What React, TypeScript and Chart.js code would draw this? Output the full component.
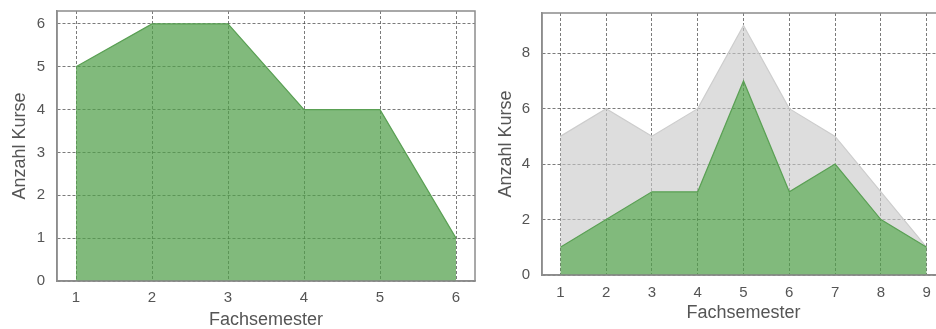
import React, { useEffect, useRef } from "react";
import { Chart, registerables } from "chart.js";

Chart.register(...registerables);

const semesterLeft = [1, 2, 3, 4, 5, 6];
const kurseLeft = [5, 6, 6, 4, 4, 1];

const semesterRight = [1, 2, 3, 4, 5, 6, 7, 8, 9];
const kurseGesamt = [5, 6, 5, 6, 9, 6, 5, 3, 1];
const kurseGruen = [1, 2, 3, 3, 7, 3, 4, 2, 1];

const xTitle = "Fachsemester";
const yTitle = "Anzahl Kurse";

const GREEN_FILL = "rgba(80,160,74,0.72)";
const GREEN_LINE = "rgba(90,160,84,1)";
const GRAY_FILL = "rgba(200,200,200,0.62)";
const GRAY_LINE = "rgba(205,205,205,1)";
const TEXT = "#555555";
const FONT = "'Liberation Sans', Arial, sans-serif";

function pts(xs: number[], ys: number[]) {
  return xs.map((x, i) => ({ x, y: ys[i] }));
}

function makeOptions(p: {
  xmin: number; xmax: number; ymax: number; ystep: number;
  yWidth: number; xHeight: number; padTop: number; padRight: number;
  xTickPad: number; xTitlePad: number; yTitlePad: number;
}) {
  return {
    animation: false as const,
    responsive: false,
    maintainAspectRatio: false,
    layout: { padding: { top: p.padTop, right: p.padRight, left: 0, bottom: 0 } },
    plugins: { legend: { display: false }, tooltip: { enabled: false } },
    elements: { point: { radius: 0 } },
    scales: {
      x: {
        type: "linear" as const,
        min: p.xmin,
        max: p.xmax,
        afterBuildTicks: (axis: any) => {
          const t = [];
          for (let v = Math.ceil(p.xmin); v <= Math.floor(p.xmax); v++) t.push({ value: v });
          axis.ticks = t;
        },
        afterFit: (axis: any) => { axis.height = p.xHeight; },
        border: { display: true, color: "#8c8c8c", width: 1.5, dash: [3, 2] },
        grid: { color: "rgba(60,60,60,0.85)", lineWidth: 0.8, drawTicks: false },
        ticks: { color: TEXT, font: { family: FONT, size: 15 }, padding: p.xTickPad },
        title: { display: true, text: xTitle, color: TEXT, font: { family: FONT, size: 18, lineHeight: 1 }, padding: { top: 0, bottom: p.xTitlePad } },
      },
      y: {
        type: "linear" as const,
        min: 0,
        max: p.ymax,
        afterBuildTicks: (axis: any) => {
          const t = [];
          for (let v = 0; v <= p.ymax; v += p.ystep) t.push({ value: v });
          axis.ticks = t;
        },
        afterFit: (axis: any) => { axis.width = p.yWidth; },
        border: { display: true, color: "#8c8c8c", width: 1.5, dash: [3, 2] },
        grid: { color: "rgba(60,60,60,0.85)", lineWidth: 0.8, drawTicks: false },
        ticks: { color: TEXT, font: { family: FONT, size: 15 }, padding: 12 },
        title: { display: true, text: yTitle, color: TEXT, font: { family: FONT, size: 18, lineHeight: 1 }, padding: { top: p.yTitlePad, bottom: 0 } },
      },
    },
  };
}

const framePlugin = {
  id: "frameSolid",
  afterDraw(chart: any) {
    const { ctx, chartArea } = chart;
    ctx.save();
    ctx.strokeStyle = "#8c8c8c";
    ctx.lineWidth = 1.5;
    ctx.setLineDash([]);
    ctx.strokeRect(chartArea.left, chartArea.top, chartArea.right - chartArea.left, chartArea.bottom - chartArea.top);
    ctx.restore();
  },
};

export default function App() {
  const leftRef = useRef<HTMLCanvasElement>(null);
  const rightRef = useRef<HTMLCanvasElement>(null);

  useEffect(() => {
    const o1: any = makeOptions({
      xmin: 0.75, xmax: 6.25, ymax: 6.3, ystep: 1, yWidth: 57, xHeight: 48,
      padTop: 0, padRight: 5, xTickPad: 8, xTitlePad: 0, yTitlePad: 11,
    });
    const c1 = new Chart(leftRef.current!, {
      type: "line",
      data: {
        datasets: [
          {
            data: pts(semesterLeft, kurseLeft),
            fill: "origin",
            backgroundColor: GREEN_FILL,
            borderColor: GREEN_LINE,
            borderWidth: 1.2,
            tension: 0,
          },
        ],
      },
      options: o1,
      plugins: [framePlugin],
    });

    const o2: any = makeOptions({
      xmin: 0.6, xmax: 9.4, ymax: 9.45, ystep: 2, yWidth: 62, xHeight: 54,
      padTop: 0, padRight: 0, xTickPad: 9, xTitlePad: 7, yTitlePad: 17,
    });
    const c2 = new Chart(rightRef.current!, {
      type: "line",
      data: {
        datasets: [
          {
            data: pts(semesterRight, kurseGruen),
            fill: "origin",
            backgroundColor: GREEN_FILL,
            borderColor: GREEN_LINE,
            borderWidth: 1.2,
            tension: 0,
          },
          {
            data: pts(semesterRight, kurseGesamt),
            fill: { target: 0 },
            backgroundColor: GRAY_FILL,
            borderColor: GRAY_LINE,
            borderWidth: 1.2,
            tension: 0,
          },
        ],
      },
      options: o2,
      plugins: [framePlugin],
    });
    return () => {
      c1.destroy();
      c2.destroy();
    };
  }, []);

  return (
    <div style={{ position: "fixed", left: 0, top: 0, width: 936, height: 329, overflow: "hidden", background: "#fff" }}>
      <canvas ref={leftRef} width={480} height={339} style={{ position: "absolute", left: 0, top: -10, width: 480, height: 339 }} />
      <canvas ref={rightRef} width={465} height={337} style={{ position: "absolute", left: 480, top: -8, width: 465, height: 337 }} />
    </div>
  );
}
